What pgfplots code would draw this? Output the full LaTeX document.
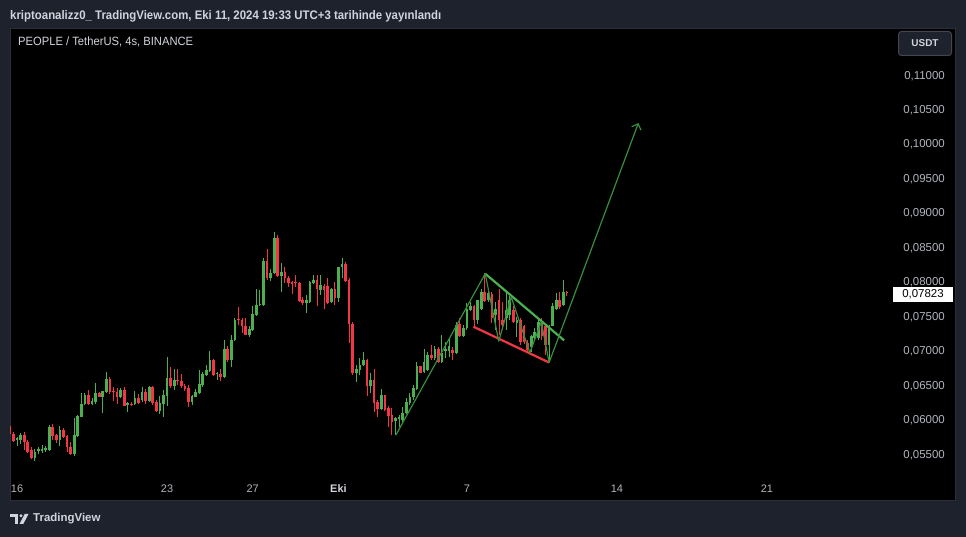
\documentclass[border=0pt]{standalone}
\usepackage{graphicx}
\usepackage{pgfplots}
\pgfplotsset{compat=1.18}
\usepackage{pgfplotstable}
\usepackage{fontspec}
\setmainfont{Liberation Sans}
\usetikzlibrary{arrows.meta}
\definecolor{tvbg}{HTML}{1E222D}
\definecolor{tvborder}{HTML}{2A2E39}
\definecolor{tvbtn}{HTML}{434651}
\definecolor{tvtext}{HTML}{D1D4DC}
\definecolor{tvgray}{HTML}{B2B5BE}
\definecolor{upc}{HTML}{4CAF50}
\definecolor{dnc}{HTML}{F23645}
\definecolor{linec}{HTML}{388E3C}

% PEOPLE/USDT 4h candles, x = candle index (0 = 15 Sep 19:00, UTC+3)
\pgfplotstableread{
i o h l c
2 0.0569 0.0574 0.0560 0.0572
3 0.0569 0.0580 0.0564 0.0576
7 0.0543 0.0556 0.0539 0.0552
8 0.0554 0.0559 0.0549 0.0556
9 0.0554 0.0562 0.0551 0.0556
10 0.0555 0.0560 0.0552 0.0557
11 0.0555 0.0591 0.0553 0.0588
14 0.0569 0.0590 0.0561 0.0584
18 0.0549 0.0601 0.0546 0.0576
19 0.0575 0.0605 0.0573 0.0604
20 0.0603 0.0638 0.0602 0.0622
21 0.0621 0.0638 0.0620 0.0634
23 0.0621 0.0630 0.0620 0.0626
24 0.0625 0.0652 0.0621 0.0638
26 0.0632 0.0641 0.0608 0.0640
27 0.0639 0.0668 0.0638 0.0658
31 0.0631 0.0644 0.0630 0.0642
33 0.0620 0.0625 0.0610 0.0623
35 0.0621 0.0641 0.0620 0.0630
37 0.0628 0.0646 0.0625 0.0639
39 0.0626 0.0648 0.0625 0.0646
42 0.0612 0.0633 0.0607 0.0623
43 0.0621 0.0642 0.0603 0.0634
44 0.0633 0.0689 0.0619 0.0659
46 0.0648 0.0673 0.0642 0.0657
51 0.0625 0.0634 0.0620 0.0633
52 0.0632 0.0643 0.0631 0.0639
53 0.0637 0.0671 0.0636 0.0650
54 0.0649 0.0668 0.0646 0.0665
55 0.0663 0.0678 0.0662 0.0671
56 0.0670 0.0699 0.0668 0.0685
58 0.0665 0.0668 0.0657 0.0667
60 0.0660 0.0714 0.0659 0.0702
62 0.0685 0.0722 0.0675 0.0715
63 0.0714 0.0747 0.0713 0.0744
67 0.0722 0.0735 0.0719 0.0730
68 0.0729 0.0764 0.0728 0.0752
69 0.0750 0.0788 0.0749 0.0765
70 0.0765 0.0787 0.0763 0.0767
71 0.0765 0.0834 0.0764 0.0829
73 0.0805 0.0817 0.0800 0.0812
74 0.0811 0.0871 0.0810 0.0863
76 0.0807 0.0826 0.0784 0.0813
83 0.0768 0.0780 0.0754 0.0772
84 0.0770 0.0800 0.0768 0.0799
85 0.0797 0.0809 0.0796 0.0801
87 0.0787 0.0809 0.0780 0.0794
90 0.0769 0.0790 0.0768 0.0789
92 0.0776 0.0821 0.0770 0.0820
93 0.0820 0.0833 0.0805 0.0825
97 0.0667 0.0678 0.0654 0.0672
98 0.0671 0.0688 0.0663 0.0678
99 0.0678 0.0697 0.0676 0.0686
101 0.0647 0.0666 0.0638 0.0657
104 0.0614 0.0643 0.0613 0.0634
108 0.0597 0.0603 0.0576 0.0601
109 0.0600 0.0605 0.0588 0.0602
110 0.0598 0.0617 0.0596 0.0608
111 0.0608 0.0630 0.0607 0.0625
112 0.0623 0.0637 0.0620 0.0631
113 0.0631 0.0649 0.0627 0.0644
114 0.0643 0.0683 0.0642 0.0676
116 0.0668 0.0702 0.0666 0.0682
117 0.0671 0.0697 0.0670 0.0692
119 0.0688 0.0705 0.0686 0.0701
121 0.0683 0.0722 0.0681 0.0696
122 0.0699 0.0711 0.0688 0.0701
123 0.0699 0.0717 0.0689 0.0705
125 0.0695 0.0741 0.0694 0.0736
127 0.0720 0.0736 0.0719 0.0732
128 0.0732 0.0768 0.0729 0.0759
129 0.0758 0.0769 0.0757 0.0764
131 0.0744 0.0773 0.0738 0.0772
132 0.0759 0.0789 0.0758 0.0784
134 0.0772 0.0787 0.0770 0.0783
136 0.0750 0.0770 0.0729 0.0759
139 0.0746 0.0782 0.0729 0.0758
140 0.0750 0.0778 0.0743 0.0773
142 0.0739 0.0748 0.0719 0.0743
146 0.0704 0.0722 0.0697 0.0720
147 0.0717 0.0732 0.0714 0.0726
148 0.0717 0.0743 0.0714 0.0741
151 0.0707 0.0736 0.0682 0.0735
152 0.0735 0.0768 0.0734 0.0763
153 0.0760 0.0782 0.0758 0.0773
155 0.0765 0.0801 0.0764 0.0784
}\upcandles

\pgfplotstableread{
i o h l c
0 0.0589 0.0590 0.0568 0.0578
1 0.0578 0.0581 0.0567 0.0568
4 0.0576 0.0581 0.0555 0.0567
5 0.0567 0.0569 0.0550 0.0552
6 0.0555 0.0559 0.0541 0.0543
12 0.0588 0.0592 0.0569 0.0575
13 0.0576 0.0578 0.0565 0.0569
15 0.0584 0.0586 0.0572 0.0573
16 0.0575 0.0577 0.0552 0.0559
17 0.0559 0.0567 0.0548 0.0549
22 0.0634 0.0642 0.0620 0.0621
25 0.0638 0.0639 0.0631 0.0632
28 0.0658 0.0660 0.0636 0.0639
29 0.0641 0.0646 0.0626 0.0639
30 0.0639 0.0644 0.0622 0.0631
32 0.0642 0.0646 0.0618 0.0619
34 0.0622 0.0624 0.0618 0.0621
36 0.0630 0.0636 0.0621 0.0623
38 0.0639 0.0643 0.0621 0.0626
40 0.0646 0.0648 0.0620 0.0623
41 0.0625 0.0628 0.0610 0.0612
45 0.0659 0.0675 0.0644 0.0648
47 0.0657 0.0672 0.0649 0.0655
48 0.0655 0.0665 0.0644 0.0647
49 0.0648 0.0650 0.0641 0.0643
50 0.0644 0.0649 0.0617 0.0625
57 0.0685 0.0687 0.0662 0.0663
59 0.0665 0.0672 0.0655 0.0660
61 0.0702 0.0706 0.0683 0.0685
64 0.0745 0.0762 0.0736 0.0743
65 0.0744 0.0747 0.0725 0.0734
66 0.0735 0.0746 0.0721 0.0722
72 0.0829 0.0846 0.0801 0.0804
75 0.0863 0.0867 0.0806 0.0807
77 0.0813 0.0821 0.0797 0.0804
78 0.0804 0.0807 0.0792 0.0797
79 0.0798 0.0800 0.0781 0.0796
80 0.0799 0.0809 0.0792 0.0797
81 0.0797 0.0799 0.0770 0.0771
82 0.0772 0.0777 0.0765 0.0768
86 0.0801 0.0809 0.0763 0.0788
88 0.0793 0.0795 0.0760 0.0787
89 0.0793 0.0805 0.0767 0.0768
91 0.0789 0.0799 0.0765 0.0776
94 0.0825 0.0828 0.0799 0.0800
95 0.0801 0.0804 0.0710 0.0738
96 0.0738 0.0740 0.0663 0.0667
100 0.0686 0.0687 0.0633 0.0647
102 0.0657 0.0673 0.0610 0.0623
103 0.0625 0.0627 0.0603 0.0614
105 0.0634 0.0635 0.0612 0.0613
106 0.0615 0.0619 0.0588 0.0604
107 0.0605 0.0615 0.0576 0.0596
115 0.0676 0.0677 0.0666 0.0667
118 0.0692 0.0707 0.0686 0.0688
120 0.0702 0.0704 0.0681 0.0683
124 0.0700 0.0704 0.0686 0.0695
126 0.0738 0.0746 0.0719 0.0720
130 0.0764 0.0765 0.0732 0.0744
133 0.0784 0.0811 0.0770 0.0771
135 0.0781 0.0784 0.0739 0.0746
137 0.0773 0.0789 0.0722 0.0743
138 0.0743 0.0770 0.0729 0.0736
141 0.0758 0.0763 0.0739 0.0741
143 0.0744 0.0747 0.0707 0.0712
144 0.0734 0.0736 0.0709 0.0712
145 0.0710 0.0714 0.0697 0.0700
149 0.0741 0.0746 0.0715 0.0720
150 0.0734 0.0736 0.0692 0.0707
154 0.0772 0.0784 0.0760 0.0762
156 0.0784 0.0786 0.0778 0.07823
}\dncandles

\begin{document}
\begin{tikzpicture}[x=1bp,y=1bp]
% frame
\fill[tvbg] (0,0) rectangle (966,537);
\fill[black] (10,36) rectangle (956,509);
\draw[tvborder, line width=1bp] (10.5,36.5) rectangle (955.5,508.5);
% header texts
\node[anchor=base west, inner sep=0pt, text=tvtext] at (10,517)
  {\resizebox{431bp}{9bp}{\bfseries kriptoanalizz0\_ TradingView.com, Eki 11, 2024 19:33 UTC+3 tarihinde yayınlandı}};
\node[anchor=base west, inner sep=0pt, text=tvtext] at (18,491)
  {\resizebox{175bp}{8.7bp}{PEOPLE / TetherUS, 4s, BINANCE}};

\begin{axis}[
  at={(10bp,59bp)}, anchor=south west,
  scale only axis, width=878bp, height=450bp,
  xmin=0.03, xmax=245.9, ymin=0.05141, ymax=0.11672,
  axis line style={draw=none},
  major tick style={draw=none}, minor tick style={draw=none},
  scaled y ticks=false, scaled x ticks=false,
  xtick={2,44,68,92,128,170,212},
  xticklabels={16,23,27,{\textbf{\color{tvtext}Eki}},7,14,21},
  xticklabel style={anchor=north, inner sep=0pt, yshift=-6.5bp, text=tvgray, font=\fontsize{11}{13}\selectfont},
  ytick={0.055,0.06,0.065,0.07,0.075,0.08,0.085,0.09,0.095,0.1,0.105,0.11},
  yticklabels={{0,05500},{0,06000},{0,06500},{0,07000},{0,07500},{0,08000},{0,08500},{0,09000},{0,09500},{0,10000},{0,10500},{0,11000}},
  yticklabel pos=right,
  yticklabel style={anchor=east, inner sep=0pt, xshift=57bp, yshift=-1.5bp, text=tvgray, font=\fontsize{11.5}{13}\selectfont},
]
% wicks and bodies
\addplot[upc, line width=1bp, quiver={u=0, v=\thisrow{h}-\thisrow{l}}] table[x=i, y=l] {\upcandles};
\addplot[upc, line width=2.7bp, quiver={u=0, v={max(\thisrow{c}-\thisrow{o},0.00012)}}] table[x=i, y=o] {\upcandles};
\addplot[dnc, line width=1bp, quiver={u=0, v=\thisrow{h}-\thisrow{l}}] table[x=i, y=l] {\dncandles};
\addplot[dnc, line width=2.7bp, quiver={u=0, v={max(\thisrow{o}-\thisrow{c},0.00012)}}] table[x=i, y=c] {\dncandles};
% pattern drawing
\addplot[upc, line width=2.2bp] coordinates {(133.1,0.08106) (155.2,0.07139)};
\addplot[dnc, line width=2.2bp] coordinates {(129.8,0.07337) (151.0,0.06817)};
\addplot[linec, line width=1.2bp, line join=round, -{Straight Barb[length=5bp, width=10bp]}] coordinates {
 (108.1,0.05765) (133.1,0.08106) (136.9,0.07125) (140.4,0.07768) (145.6,0.06959)
 (148.8,0.07405) (151.0,0.06817) (176.0,0.10293)};
\end{axis}

% last price tag
\node[fill=white, text=black, inner sep=0pt, minimum width=60bp, minimum height=15bp,
  font=\fontsize{11.5}{13}\selectfont] at (923,242.5) {0,07823};
% currency button
\draw[tvbtn, fill=tvbg, rounded corners=3bp, line width=1bp] (898.5,481.5) rectangle (951.5,505.5);
\node[text=tvtext, inner sep=0pt, font=\bfseries\fontsize{10}{12}\selectfont] at (925,493.5) {USDT};
% footer logo
\fill[tvtext] (10,19.5) rectangle (18,23);
\fill[tvtext] (14.5,13) rectangle (18,23);
\fill[tvtext] (21,21.2) circle (1.7);
\fill[tvtext] (19.5,13) -- (23.3,13) -- (28.5,23) -- (24.7,23) -- cycle;
\node[anchor=west, inner sep=0pt, text=tvtext, font=\bfseries\fontsize{11.5}{13}\selectfont] at (33,18) {TradingView};
\pgfresetboundingbox
\path (0,0) rectangle (966,537);
\end{tikzpicture}
\end{document}
